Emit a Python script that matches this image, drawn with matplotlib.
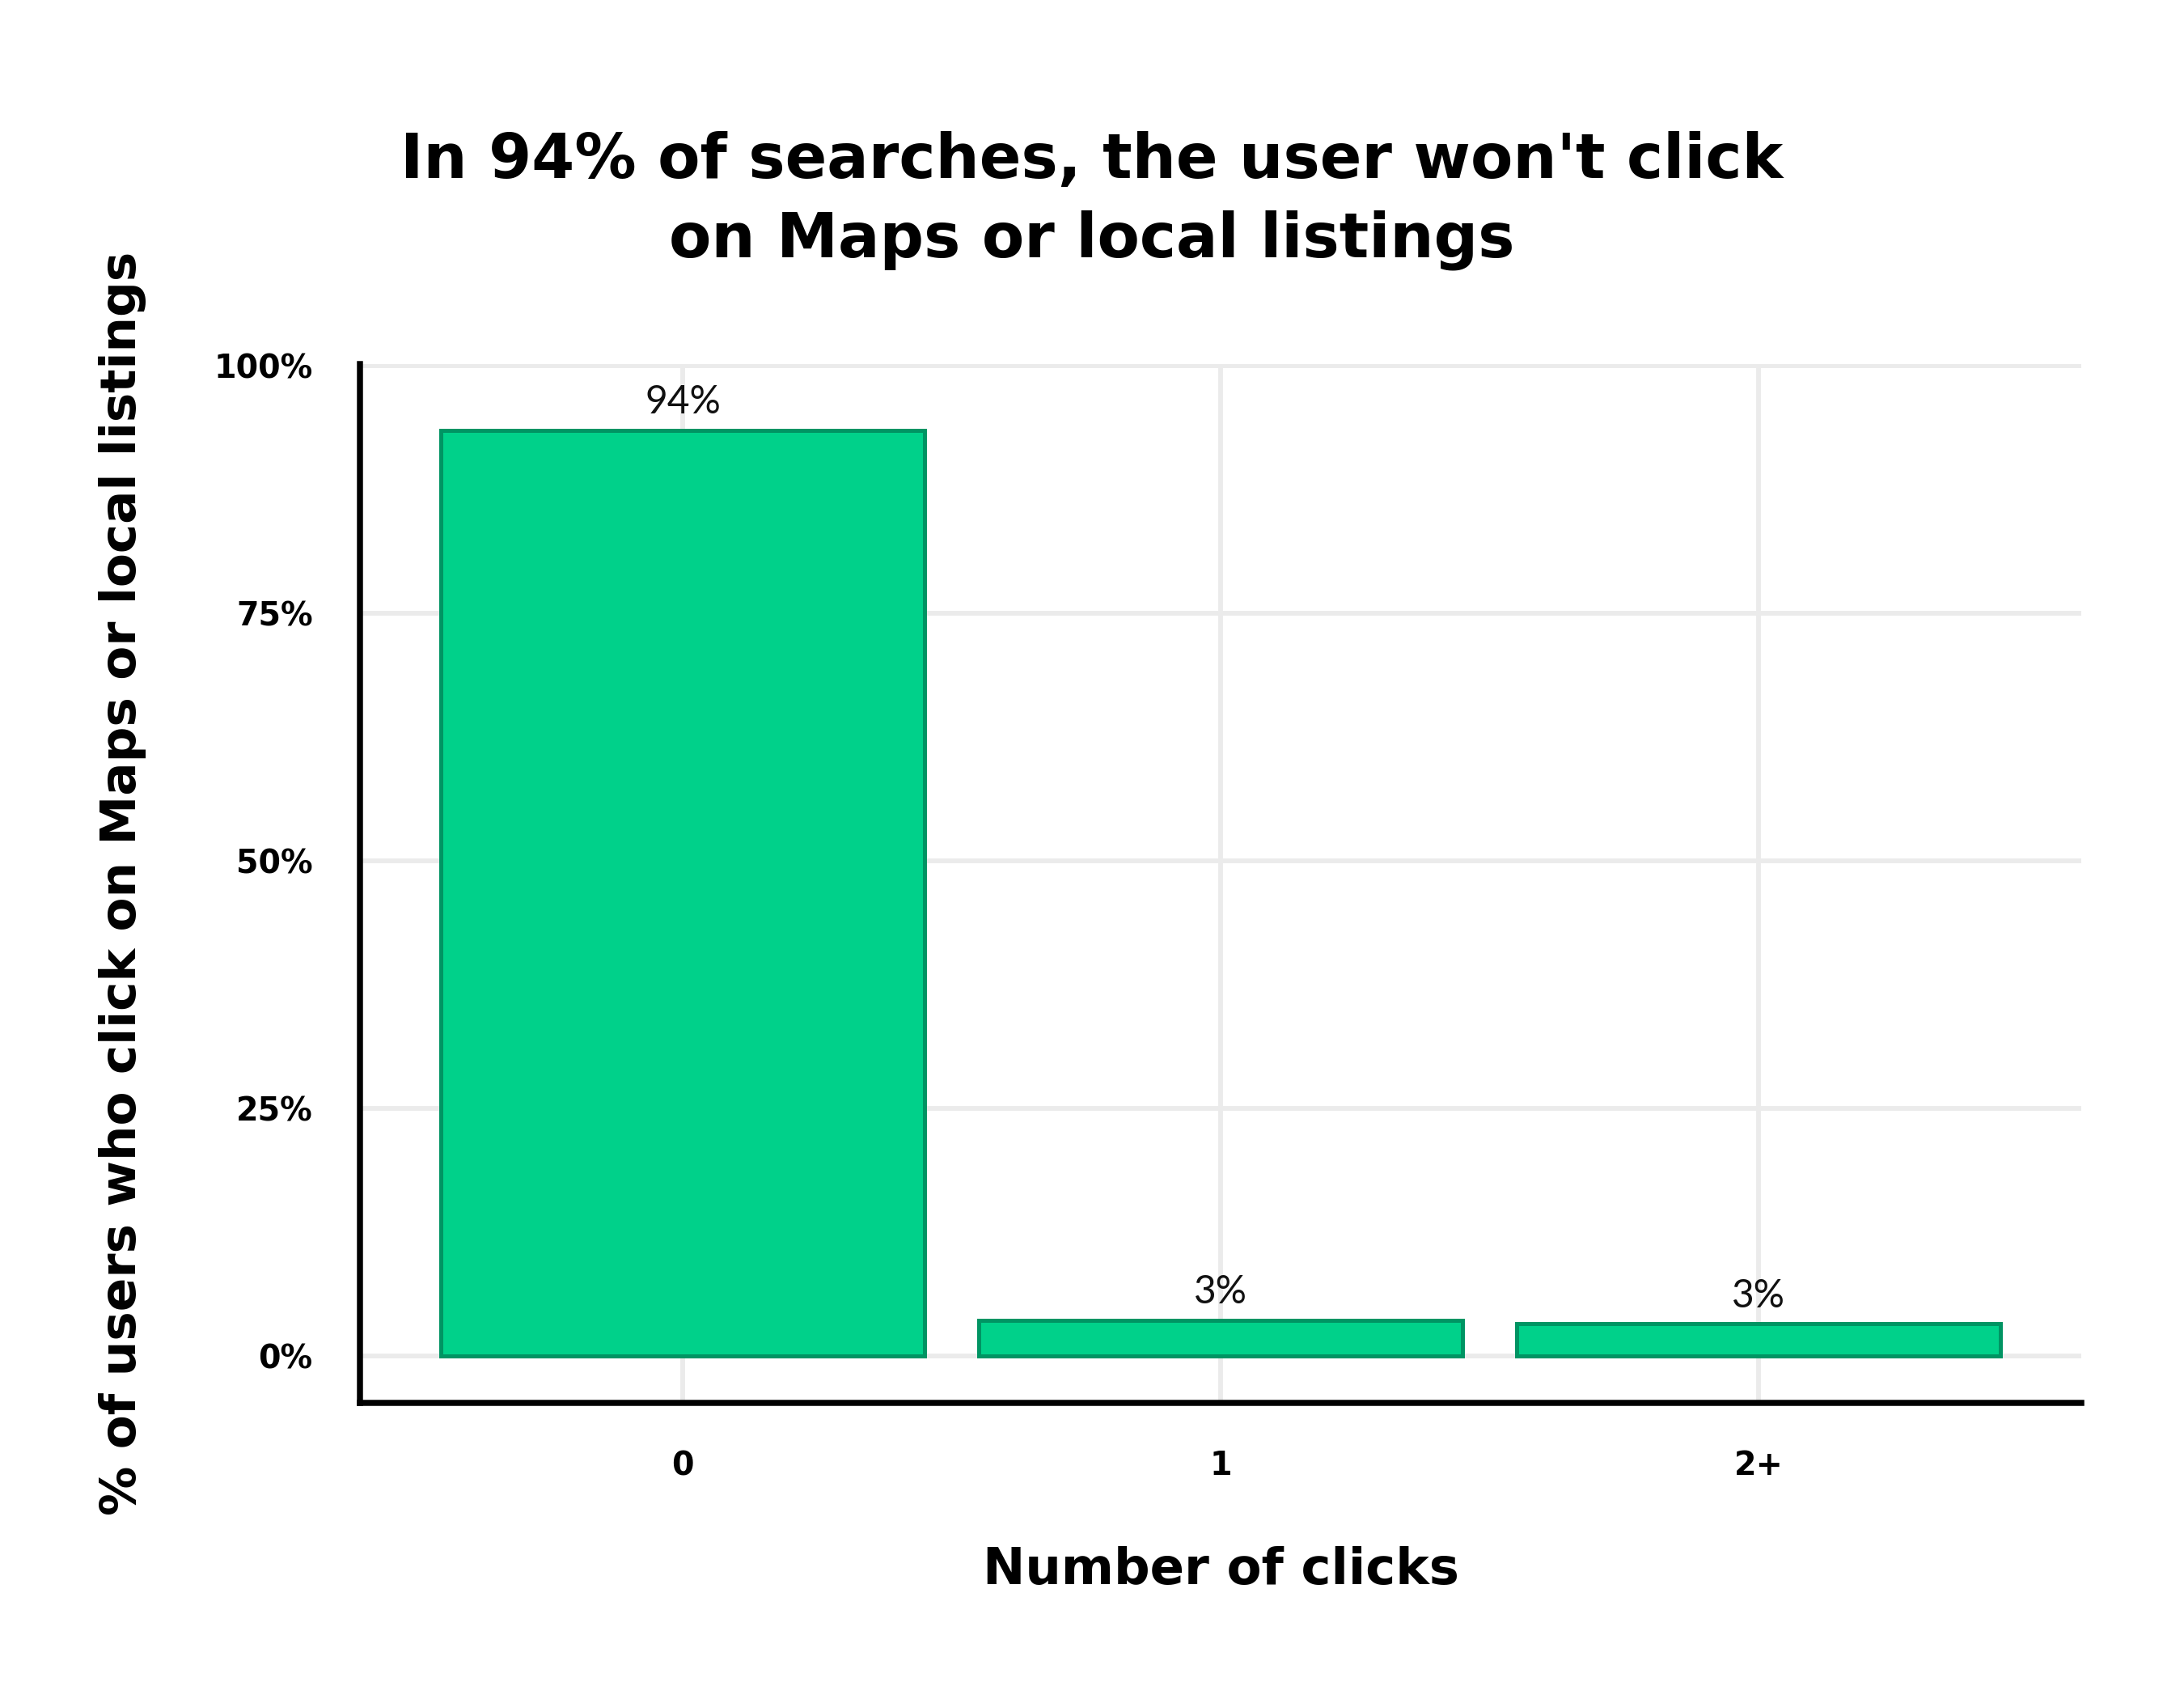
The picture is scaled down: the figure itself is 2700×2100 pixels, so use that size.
import matplotlib
matplotlib.use("Agg")
import matplotlib.pyplot as plt

# data
categories = ["0", "1", "2+"]
values = [93.5, 3.6, 3.2]
labels = ["94%", "3%", "3%"]
yticks = [0, 25, 50, 75, 100]
ytick_labels = ["0%", "25%", "50%", "75%", "100%"]

plt.rcParams['font.family'] = ['DejaVu Sans']

fig = plt.figure(figsize=(9, 7), dpi=300)
ax = fig.add_axes([0.1648, 0.1743, 0.953 - 0.1648, 0.7857 - 0.1743])

x = list(range(len(categories)))
ax.bar(x, values, width=0.9, color='#00d18a', edgecolor='#009463', linewidth=1.2, zorder=3)

for xi, v, lab in zip(x, values, labels):
    ax.annotate(lab, (xi, v), xytext=(0, 3), textcoords='offset points',
                ha='center', va='bottom', fontsize=11.5, fontweight='normal',
                family=['Lato', 'DejaVu Sans'], color='#111111')

ax.set_xlim(-0.6, 2.6)
ax.set_ylim(-4.77, 100.2)
ax.set_xticks(x)
ax.set_xticklabels(categories, fontsize=9.5, fontweight='bold')
ax.set_yticks(yticks)
ax.set_yticklabels(ytick_labels, fontsize=9.5, fontweight='bold')
ax.tick_params(axis='both', length=0)
ax.tick_params(axis='y', pad=14)
ax.tick_params(axis='x', pad=14)

ax.grid(True, color='#ebebeb', linewidth=1.4, zorder=0)
ax.set_axisbelow(True)

for s in ['top', 'right']:
    ax.spines[s].set_visible(False)
for s in ['left', 'bottom']:
    ax.spines[s].set_linewidth(1.8)
    ax.spines[s].set_color('black')

ax.set_xlabel("Number of clicks", fontsize=15, fontweight='bold', va='center')
ax.xaxis.set_label_coords(0.5, -0.161)
ax.set_ylabel("% of users who click on Maps or local listings", fontsize=14.7,
              fontweight='bold', va='center')
ax.yaxis.set_label_coords(-0.138, 0.5)

fig.text(0.5, 0.882, "In 94% of searches, the user won't click\non Maps or local listings",
         ha='center', va='center', fontsize=18.3, fontweight='bold', linespacing=1.4)

fig.savefig("out.png", dpi=300, facecolor='white')
